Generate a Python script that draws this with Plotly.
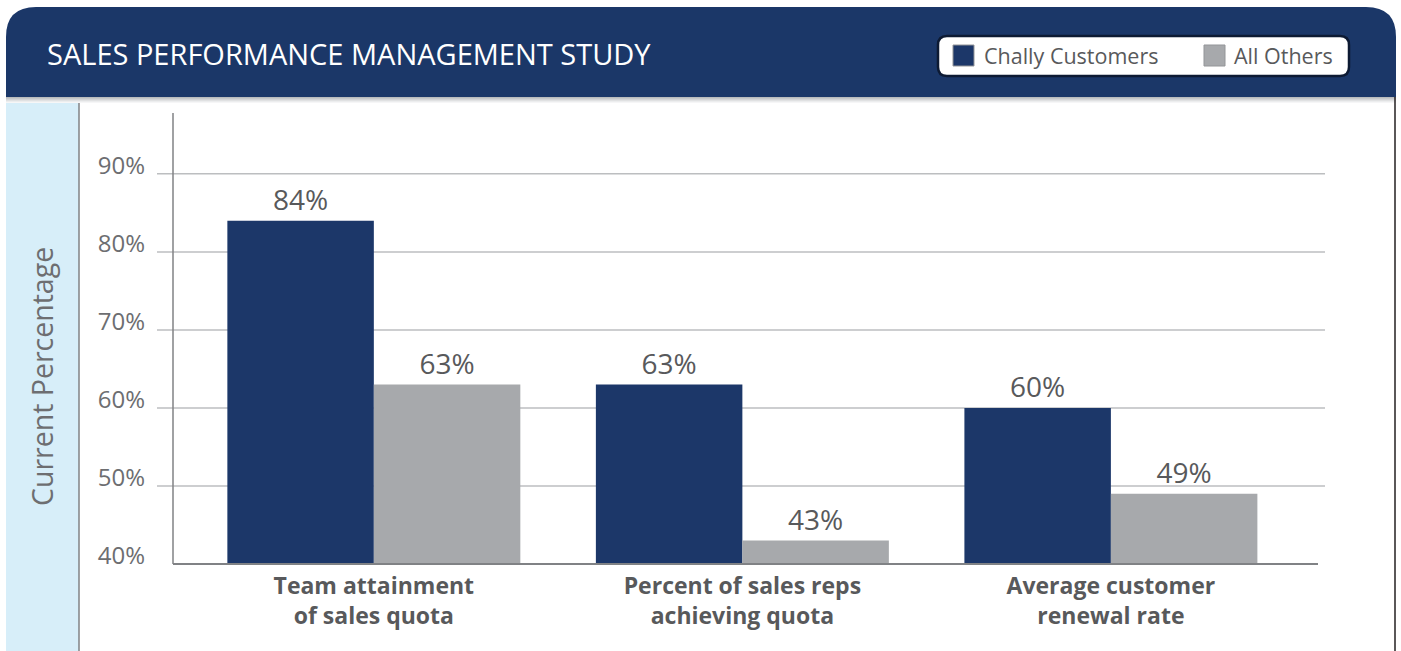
import plotly.graph_objects as go

# ---- data ----
categories = ["Team attainment<br>of sales quota",
              "Percent of sales reps<br>achieving quota",
              "Average customer<br>renewal rate"]
series_names = ["Chally Customers", "All Others"]
chally_values = [84, 63, 60]
others_values = [63, 43, 49]
y_tick_values = [40, 50, 60, 70, 80, 90]
y_tick_labels = ["40%", "50%", "60%", "70%", "80%", "90%"]

NAVY = "#1c3769"
GREY = "#a7a9ac"
TEXT = "#58595b"
TICK = "#6d6e71"
FONT = "Open Sans"

W, H = 1401, 651
L, R, T, B = 173, 1318, 113, 564  # plot area pixel box


def px(x):
    return (x - L) / (R - L)


def py(y):
    return (B - y) / (B - T)


xpos = list(range(len(categories)))

fig = go.Figure()
for name, vals, col in [(series_names[0], chally_values, NAVY),
                        (series_names[1], others_values, GREY)]:
    fig.add_trace(go.Bar(
        x=xpos, y=vals, name=name, marker=dict(color=col, line=dict(width=0)),
        text=[f"{v}%" for v in vals], textposition="outside",
        textfont=dict(family=FONT, size=28, color=TEXT),
        cliponaxis=False, showlegend=False,
    ))

shapes = []
# header bar with rounded top corners
x0, x1, y0, y1 = px(6), px(1396), py(97), py(7)
rx = 30 / (R - L)
ry = 30 / (B - T)
path = (f"M {x0},{y0} L {x0},{y1 - ry} Q {x0},{y1} {x0 + rx},{y1} "
        f"L {x1 - rx},{y1} Q {x1},{y1} {x1},{y1 - ry} L {x1},{y0} Z")
shapes.append(dict(type="path", xref="paper", yref="paper", path=path,
                   fillcolor="#1b3768", line=dict(width=0), layer="below"))
# shadow under the header
shade = ["#b9bbbd", "#c6c8ca", "#d3d4d6", "#e0e1e2", "#ecedee", "#f6f6f7"]
for i, c in enumerate(shade):
    shapes.append(dict(type="rect", xref="paper", yref="paper",
                       x0=px(6), x1=px(1396), y0=py(98 + i), y1=py(97 + i),
                       fillcolor=c, line=dict(width=0), layer="below"))
# left light-blue panel
shapes.append(dict(type="rect", xref="paper", yref="paper",
                   x0=px(6), x1=px(79), y0=py(651), y1=py(103),
                   fillcolor="#d7eef9", line=dict(width=0), layer="below"))
shapes.append(dict(type="line", xref="paper", yref="paper",
                   x0=px(79), x1=px(79), y0=py(651), y1=py(103),
                   line=dict(color="#808285", width=1.5)))
# right border
shapes.append(dict(type="line", xref="paper", yref="paper",
                   x0=px(1395), x1=px(1395), y0=py(651), y1=py(97),
                   line=dict(color="#231f20", width=1.5)))
# gridlines (extend left past axis like ticks)
for v in y_tick_values[1:]:
    shapes.append(dict(type="line", xref="paper", yref="y",
                       x0=px(157), x1=px(1325), y0=v, y1=v,
                       line=dict(color="#bcbec0", width=1.5), layer="below"))
# axis lines
shapes.append(dict(type="line", xref="paper", yref="paper",
                   x0=0, x1=0, y0=0, y1=1, line=dict(color="#808285", width=1.5)))
shapes.append(dict(type="line", xref="paper", yref="paper",
                   x0=0, x1=1, y0=0, y1=0, line=dict(color="#808285", width=2)))

# legend box (manual, in header)
lx0, lx1, ly0, ly1 = px(938), px(1349), py(76), py(36)
lrx = 9 / (R - L)
lry = 9 / (B - T)
lpath = (f"M {lx0 + lrx},{ly0} L {lx1 - lrx},{ly0} Q {lx1},{ly0} {lx1},{ly0 + lry} "
         f"L {lx1},{ly1 - lry} Q {lx1},{ly1} {lx1 - lrx},{ly1} "
         f"L {lx0 + lrx},{ly1} Q {lx0},{ly1} {lx0},{ly1 - lry} "
         f"L {lx0},{ly0 + lry} Q {lx0},{ly0} {lx0 + lrx},{ly0} Z")
shapes.append(dict(type="path", xref="paper", yref="paper", path=lpath,
                   fillcolor="white", line=dict(color="#0d1a33", width=2.5)))

annotations = []
legend_items = [(series_names[0], NAVY, 953, 982), (series_names[1], GREY, 1204, 1232)]
for name, col, sx, tx in legend_items:
    shapes.append(dict(type="rect", xref="paper", yref="paper",
                       x0=px(sx), x1=px(sx + 21), y0=py(66), y1=py(45),
                       fillcolor=col, line=dict(color="#939598", width=1)))
    annotations.append(dict(xref="paper", yref="paper", x=px(tx), y=py(56),
                            xanchor="left", yanchor="middle", showarrow=False,
                            text=name, font=dict(family=FONT, size=21.5, color=TEXT)))

# title
annotations.append(dict(xref="paper", yref="paper", x=px(45), y=py(54),
                        xanchor="left", yanchor="middle", showarrow=False,
                        text="SALES PERFORMANCE MANAGEMENT STUDY",
                        font=dict(family=FONT, size=29, color="white")))
# y-axis title
annotations.append(dict(xref="paper", yref="paper", x=px(42), y=py(377),
                        xanchor="center", yanchor="middle", showarrow=False,
                        textangle=-90, text="Current Percentage",
                        font=dict(family=FONT, size=28.5, color=TICK)))

fig.update_layout(
    width=W, height=H,
    margin=dict(l=L, r=W - R, t=T, b=H - B),
    paper_bgcolor="white", plot_bgcolor="rgba(0,0,0,0)",
    barmode="group", bargap=0.205, bargroupgap=0,
    shapes=shapes, annotations=annotations,
    xaxis=dict(range=[-0.545, 2.562], tickvals=xpos, ticktext=categories,
               showgrid=False, zeroline=False, showline=False, ticks="",
               ticklabelstandoff=6,
               tickfont=dict(family=FONT, size=23, color=TEXT, weight="bold"),
               fixedrange=True),
    yaxis=dict(range=[40, 97.8], tickvals=y_tick_values, ticktext=y_tick_labels,
               showgrid=False, zeroline=False, showline=False, ticks="",
               ticklabelstandoff=27, ticklabelshift=-8,
               tickfont=dict(family=FONT, size=24, color=TICK),
               fixedrange=True),
    showlegend=False,
)

fig.write_html("out.html", config={"displayModeBar": False})
